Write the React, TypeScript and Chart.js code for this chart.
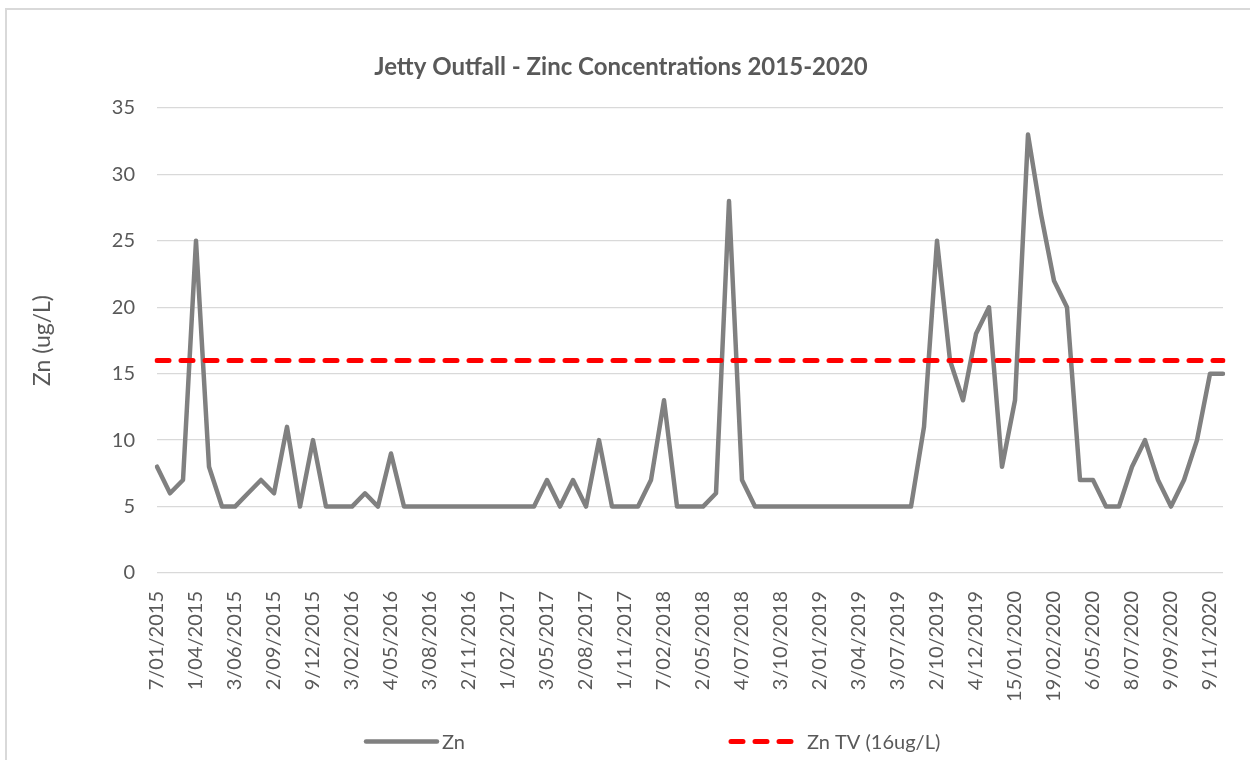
import React, { useEffect, useRef } from "react";
import { Chart, registerables } from "chart.js";

Chart.register(...registerables);

// ---- chart content ----
const TITLE = "Jetty Outfall - Zinc Concentrations 2015-2020";
const Y_TITLE = "Zn (ug/L)";
const SERIES_NAMES = ["Zn", "Zn TV (16ug/L)"];

// Dates shown on the x axis (one every third sample)
const TICK_DATES = [
  "7/01/2015", "1/04/2015", "3/06/2015", "2/09/2015", "9/12/2015",
  "3/02/2016", "4/05/2016", "3/08/2016", "2/11/2016", "1/02/2017",
  "3/05/2017", "2/08/2017", "1/11/2017", "7/02/2018", "2/05/2018",
  "4/07/2018", "3/10/2018", "2/01/2019", "3/04/2019", "3/07/2019",
  "2/10/2019", "4/12/2019", "15/01/2020", "19/02/2020", "6/05/2020",
  "8/07/2020", "9/09/2020", "9/11/2020",
];
const SAMPLES_PER_TICK = 3;

// Zinc results (ug/L), one per sampling event
const ZN_VALUES = [
  8, 6, 7, 25, 8, 5, 5, 6, 7, 6,
  11, 5, 10, 5, 5, 5, 6, 5, 9, 5,
  5, 5, 5, 5, 5, 5, 5, 5, 5, 5,
  7, 5, 7, 5, 10, 5, 5, 5, 7, 13,
  5, 5, 5, 6, 28, 7, 5, 5, 5, 5,
  5, 5, 5, 5, 5, 5, 5, 5, 5, 11,
  25, 16, 13, 18, 20, 8, 13, 33, 27, 22,
  20, 7, 7, 5, 5, 8, 10, 7, 5, 7,
  10, 15, 15,
];

// Trigger value for zinc (ug/L)
const ZN_TV = 16;

const Y_MIN = 0;
const Y_MAX = 35;
const Y_STEP = 5;

// ---- styling ----
const FONT = "Lato, 'Open Sans', sans-serif";
const TEXT = "#595959";
const GRID = "#d9d9d9";
const ZN_COLOR = "#808080";
const TV_COLOR = "#ff0000";

const categories = ZN_VALUES.map((_, i) =>
  i % SAMPLES_PER_TICK === 0 ? TICK_DATES[i / SAMPLES_PER_TICK] ?? "" : ""
);

// Draws the chart title and the bottom legend
const decorPlugin = {
  id: "decor",
  afterDraw(chart: any, _args: any, opts: any) {
    const ctx = chart.ctx as CanvasRenderingContext2D;
    ctx.save();
    ctx.fillStyle = TEXT;
    ctx.textBaseline = "middle";

    ctx.font = `bold ${opts.titleSize}px ${FONT}`;
    ctx.textAlign = "center";
    ctx.fillText(TITLE, opts.titleX, opts.titleY);

    ctx.font = `${opts.legendSize}px ${FONT}`;
    ctx.textAlign = "left";
    opts.legend.forEach((item: any) => {
      const ds = chart.data.datasets[item.dataset];
      ctx.beginPath();
      ctx.setLineDash(ds.borderDash || []);
      ctx.lineCap = "round";
      ctx.lineWidth = ds.borderWidth;
      ctx.strokeStyle = ds.borderColor;
      ctx.moveTo(item.x0, opts.legendY);
      ctx.lineTo(item.x1, opts.legendY);
      ctx.stroke();
      ctx.setLineDash([]);
      ctx.fillStyle = TEXT;
      ctx.fillText(ds.label, item.textX, opts.legendY + 1);
    });
    ctx.restore();
  },
};

export default function App() {
  const canvasRef = useRef<HTMLCanvasElement | null>(null);

  useEffect(() => {
    const canvas = canvasRef.current;
    if (!canvas) return;
    const chart = new Chart(canvas, {
      type: "line",
      data: {
        labels: categories,
        datasets: [
          {
            label: SERIES_NAMES[0],
            data: ZN_VALUES,
            borderColor: ZN_COLOR,
            backgroundColor: ZN_COLOR,
            borderWidth: 4.5,
            borderJoinStyle: "round",
            borderCapStyle: "round",
            pointRadius: 0,
            tension: 0,
            fill: false,
            order: 1,
          },
          {
            label: SERIES_NAMES[1],
            data: categories.map(() => ZN_TV),
            borderColor: TV_COLOR,
            backgroundColor: TV_COLOR,
            borderWidth: 5,
            borderDash: [12, 12],
            borderCapStyle: "round",
            pointRadius: 0,
            tension: 0,
            fill: false,
            order: 0,
          },
        ],
      },
      options: {
        responsive: false,
        animation: false,
        devicePixelRatio: 1,
        layout: { padding: { left: 0, top: 108, right: 27, bottom: 40 } },
        plugins: {
          legend: { display: false },
          title: { display: false },
          tooltip: { enabled: false },
          decor: {
            titleX: 621,
            titleY: 67,
            titleSize: 24,
            legendY: 741.5,
            legendSize: 20,
            legend: [
              { dataset: 0, x0: 366, x1: 437, textX: 442 },
              { dataset: 1, x0: 731, x1: 795, textX: 807 },
            ],
          },
        } as any,
        scales: {
          x: {
            type: "category",
            offset: false,
            grid: { display: false, drawTicks: false },
            border: { display: false },
            ticks: {
              autoSkip: false,
              minRotation: 90,
              maxRotation: 90,
              padding: 18,
              color: TEXT,
              font: { family: FONT, size: 20 },
            },
            afterFit: (scale: any) => {
              scale.height = 147;
              scale.paddingLeft = 0;
              scale.paddingRight = 0;
            },
          },
          y: {
            min: Y_MIN,
            max: Y_MAX,
            ticks: {
              stepSize: Y_STEP,
              padding: 22,
              color: TEXT,
              font: { family: FONT, size: 20 },
            },
            grid: { color: GRID, lineWidth: 1.3, drawTicks: false },
            border: { display: false },
            title: {
              display: true,
              text: Y_TITLE,
              color: TEXT,
              font: { family: FONT, size: 23 },
              padding: { top: 29, bottom: 0 },
            },
            afterFit: (scale: any) => {
              scale.width = 157;
            },
          },
        },
      },
      plugins: [decorPlugin],
    });
    return () => chart.destroy();
  }, []);

  return (
    <div
      style={{
        position: "fixed",
        left: 0,
        top: 0,
        width: 1250,
        height: 760,
        overflow: "hidden",
        background: "#ffffff",
      }}
    >
      <div
        style={{
          position: "absolute",
          left: 5,
          top: 8,
          width: 1300,
          height: 800,
          border: `2px solid ${GRID}`,
          boxSizing: "border-box",
        }}
      />
      <canvas
        ref={canvasRef}
        width={1250}
        height={760}
        style={{ position: "absolute", left: 0, top: 0, display: "block" }}
      />
    </div>
  );
}
